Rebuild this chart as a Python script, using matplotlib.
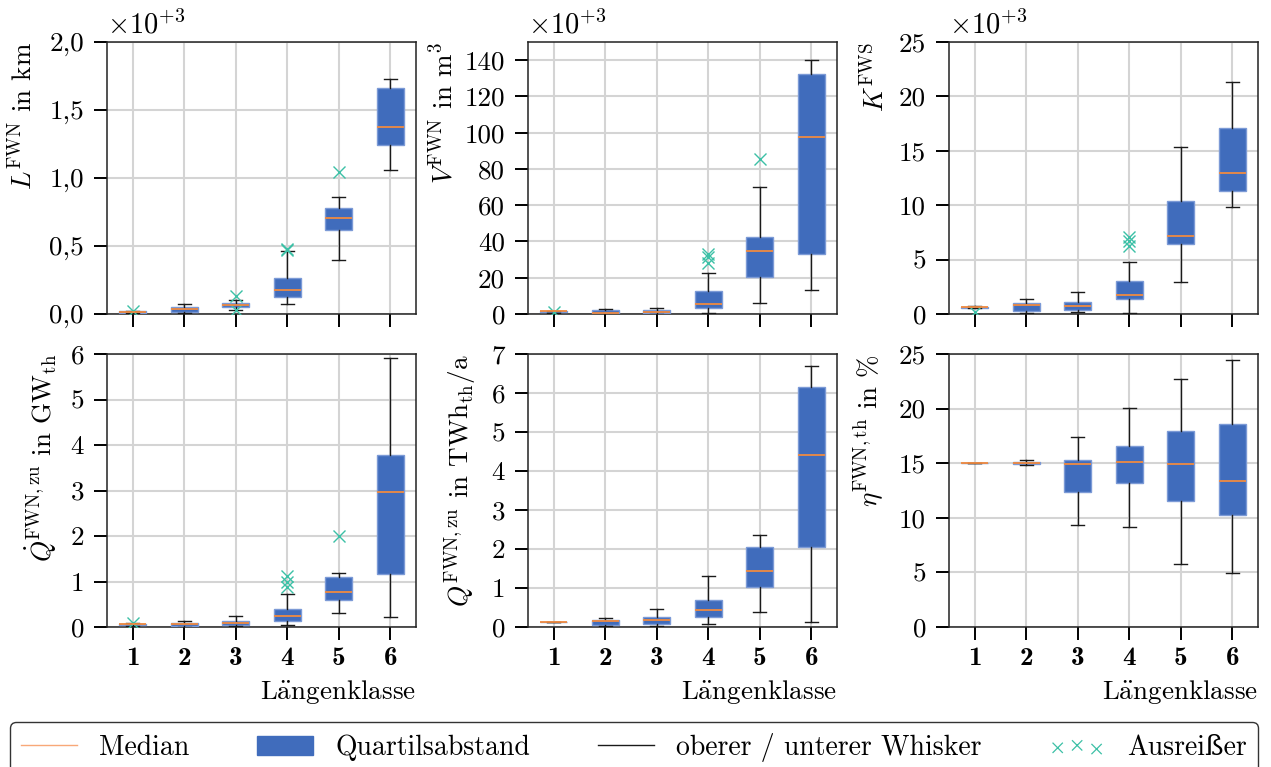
import matplotlib
matplotlib.use("Agg")
import matplotlib.pyplot as plt
from matplotlib.lines import Line2D
from matplotlib.patches import Patch
from matplotlib.ticker import FuncFormatter, MultipleLocator

plt.rcParams['font.family'] = ['cmr10', 'DejaVu Serif']
plt.rcParams['mathtext.fontset'] = 'cm'
plt.rcParams['axes.unicode_minus'] = False
plt.rcParams['axes.formatter.use_mathtext'] = True
plt.rcParams['font.size'] = 19.5

classes = [1, 2, 3, 4, 5, 6]

# Panel 1: L^FWN in km (x10^3)
L_lo = [0.005, 0.005, 0.032, 0.076, 0.394, 1.062]
L_q1 = [0.010, 0.017, 0.054, 0.122, 0.617, 1.244]
L_med = [0.015, 0.034, 0.069, 0.176, 0.705, 1.376]
L_q3 = [0.020, 0.049, 0.081, 0.264, 0.783, 1.665]
L_hi = [0.025, 0.071, 0.100, 0.460, 0.857, 1.726]
L_out = [[0.02], [], [0.135, 0.03], [0.47, 0.475], [1.045], []]

# Panel 2: V^FWN in m^3 (x10^3)
V_lo = [0.8, 0.0, 0.0, 0.4, 6.1, 13.0]
V_q1 = [1.0, 0.2, 0.4, 3.3, 20.2, 33.2]
V_med = [1.5, 0.5, 1.1, 5.5, 34.7, 97.8]
V_q3 = [1.7, 2.0, 2.2, 12.8, 42.2, 132.5]
V_hi = [1.8, 2.6, 3.5, 22.4, 70.1, 140.2]
V_out = [[1.0], [], [], [33.0, 31.5, 28.0], [85.7], []]

# Panel 3: K^FWS (x10^3)
K_lo = [0.55, 0.06, 0.15, 0.06, 2.94, 9.85]
K_q1 = [0.55, 0.24, 0.40, 1.35, 6.40, 11.29]
K_med = [0.60, 0.80, 0.77, 1.71, 7.16, 12.97]
K_q3 = [0.65, 1.04, 1.10, 3.00, 10.37, 17.07]
K_hi = [0.70, 1.35, 2.02, 4.74, 15.33, 21.36]
K_out = [[0.2], [], [], [7.04, 6.73, 6.24], [], []]

# Panel 4: Qdot^FWN,zu in GW_th
P_lo = [0.03, 0.01, 0.02, 0.04, 0.31, 0.22]
P_q1 = [0.04, 0.03, 0.045, 0.13, 0.59, 1.16]
P_med = [0.06, 0.06, 0.095, 0.25, 0.78, 2.96]
P_q3 = [0.07, 0.095, 0.14, 0.40, 1.10, 3.79]
P_hi = [0.08, 0.13, 0.25, 0.725, 1.18, 5.92]
P_out = [[0.09], [], [], [1.11, 0.99, 0.88], [2.01], []]

# Panel 5: Q^FWN,zu in TWh_th/a
Q_lo = [0.137, 0.03, 0.03, 0.07, 0.39, 0.12]
Q_q1 = [0.137, 0.04, 0.085, 0.25, 1.03, 2.04]
Q_med = [0.137, 0.145, 0.17, 0.44, 1.44, 4.41]
Q_q3 = [0.137, 0.18, 0.265, 0.69, 2.05, 6.15]
Q_hi = [0.137, 0.24, 0.46, 1.32, 2.35, 6.69]
Q_out = [[], [], [], [], [], []]

# Panel 6: eta^FWN,th in %
E_lo = [15.0, 14.83, 9.31, 9.19, 5.74, 4.95]
E_q1 = [15.0, 14.90, 12.33, 13.16, 11.54, 10.23]
E_med = [15.0, 15.02, 14.96, 15.08, 14.96, 13.34]
E_q3 = [15.0, 15.14, 15.32, 16.60, 17.95, 18.62]
E_hi = [15.0, 15.26, 17.37, 20.02, 22.71, 24.45]
E_out = [[], [], [], [], [], []]

ylabels = [r"$L^{\mathrm{FWN}}$ in km",
           r"$V^{\mathrm{FWN}}$ in m$^3$",
           r"$K^{\mathrm{FWS}}$",
           r"$\dot{Q}^{\mathrm{FWN,zu}}$ in $\mathrm{GW_{th}}$",
           r"$Q^{\mathrm{FWN,zu}}$ in $\mathrm{TWh_{th}/a}$",
           r"$\eta^{\mathrm{FWN,th}}$ in %"]
xlabel = r"L$\ddot{\mathrm{a}}$ngenklasse"
legend_labels = ["Median", "Quartilsabstand", "oberer / unterer Whisker", "Ausreißer"]

box_face = '#406cbc'
box_edge = '#7c9ad6'
median_col = '#f08a40'
whisk_col = '#1a1a1a'
flier_col = '#3cc0a6'
grid_col = '#d4d4d4'

panels = [
    (L_lo, L_q1, L_med, L_q3, L_hi, L_out, (0, 2.0), 0.5, 'dec'),
    (V_lo, V_q1, V_med, V_q3, V_hi, V_out, (0, 150), 20, 'int'),
    (K_lo, K_q1, K_med, K_q3, K_hi, K_out, (0, 25), 5, 'int'),
    (P_lo, P_q1, P_med, P_q3, P_hi, P_out, (0, 6), 1, 'int'),
    (Q_lo, Q_q1, Q_med, Q_q3, Q_hi, Q_out, (0, 7), 1, 'int'),
    (E_lo, E_q1, E_med, E_q3, E_hi, E_out, (0, 25), 5, 'int'),
]
# horizontal position (px left of the axes) of the y labels
label_offsets = [70, 71, 60, 48, 49, 63]

W, H = 1271, 767
fig = plt.figure(figsize=(W / 100, H / 100), dpi=100)
lefts = [107, 528, 949]
width = 309
rows = [(42, 314), (354, 627)]

for i, (lo, q1, med, q3, hi, out, ylim, step, fmt) in enumerate(panels):
    r, c = divmod(i, 3)
    top, bot = rows[r]
    ax = fig.add_axes([lefts[c] / W, 1 - bot / H, width / W, (bot - top) / H])
    stats = []
    for k in range(len(classes)):
        stats.append(dict(whislo=lo[k], q1=q1[k], med=med[k], q3=q3[k],
                          whishi=hi[k], fliers=out[k], label=str(classes[k])))
    ax.bxp(stats, positions=classes, widths=0.52, patch_artist=True,
           boxprops=dict(facecolor=box_face, edgecolor=box_edge, linewidth=1.0),
           medianprops=dict(color=median_col, linewidth=1.3),
           whiskerprops=dict(color=whisk_col, linewidth=1.0),
           capprops=dict(color=whisk_col, linewidth=1.0),
           flierprops=dict(marker='x', markeredgecolor=flier_col, markersize=9,
                           markeredgewidth=1.0, linestyle='none'),
           zorder=3)
    ax.set_ylim(*ylim)
    ax.set_xlim(0.5, 6.5)
    ax.yaxis.set_major_locator(MultipleLocator(step))
    if fmt == 'dec':
        ax.yaxis.set_major_formatter(FuncFormatter(lambda v, p: f"{v:.1f}".replace('.', ',')))
    else:
        ax.yaxis.set_major_formatter(FuncFormatter(lambda v, p: f"{v:.0f}"))
    ax.set_axisbelow(True)
    ax.grid(True, color=grid_col, linewidth=1.5)
    ax.tick_params(axis='y', direction='out', length=9.5, width=1.4, pad=7,
                   labelsize=19.5)
    ax.tick_params(axis='x', direction='out', length=9.5, width=1.4, pad=5,
                   labelsize=19.5)
    for s in ax.spines.values():
        s.set_linewidth(1.1)
        s.set_color('#222222')
    ax.set_ylabel(ylabels[i], fontsize=19.5, loc='top')
    ax.yaxis.set_label_coords(-label_offsets[i] / width, 1.0)
    ax.set_xticks(classes)
    if r == 0:
        ax.set_xticklabels([])
        ax.text(0.0, 1.01, r"$\times10^{+3}$", transform=ax.transAxes,
                ha='left', va='bottom', fontsize=20.5)
    else:
        ax.set_xticklabels([str(k) for k in classes], fontfamily='cmb10', fontsize=19.5)
        ax.set_xlabel(xlabel, loc='right', fontsize=19.5, labelpad=6)

handles = [Line2D([], [], color='#f8a878', linewidth=1.0),
           Patch(facecolor=box_face, edgecolor=box_face),
           Line2D([], [], color=whisk_col, linewidth=1.0),
           plt.scatter([], [], marker='x', color=flier_col, s=55, linewidths=0.9)]
fig.legend(handles, legend_labels, loc='upper left', ncol=4, mode='expand',
           bbox_to_anchor=(10 / W, 0.0, 1248 / W, 1 - 722 / H),
           fontsize=20, frameon=True, fancybox=True, edgecolor='#333333',
           framealpha=1.0, handlelength=2.0, borderaxespad=0.0,
           scatterpoints=3)

fig.savefig("out.png", dpi=100)
